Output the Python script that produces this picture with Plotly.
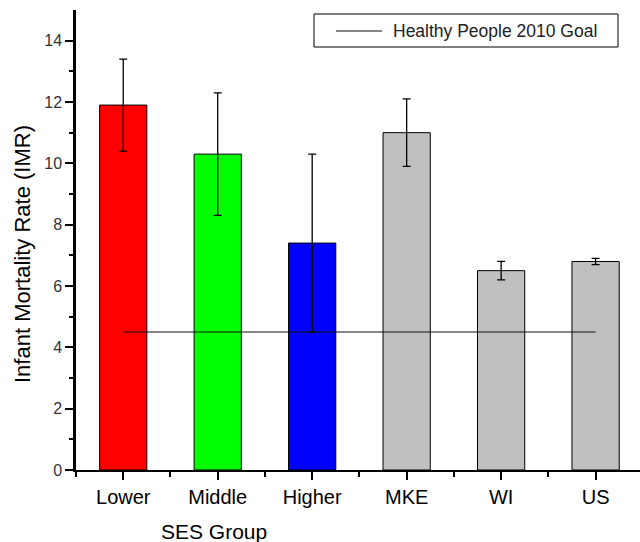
import plotly.graph_objects as go

# Infant mortality rate by socioeconomic group and region
groups = ["Lower", "Middle", "Higher", "MKE", "WI", "US"]
imr = [11.9, 10.3, 7.4, 11.0, 6.5, 6.8]
imr_err = [1.5, 2.0, 2.9, 1.1, 0.3, 0.1]
bar_colors = ["#FF0000", "#00FF00", "#0000FF", "#C0C0C0", "#C0C0C0", "#C0C0C0"]

goal_label = "Healthy People 2010 Goal"
goal_value = 4.5

y_ticks = [0, 2, 4, 6, 8, 10, 12, 14]

W, H = 640, 542
L, R, T, B = 76, 0, 10, 72
pw, ph = W - L - R, H - T - B

fig = go.Figure()

fig.add_trace(go.Bar(
    x=list(range(len(groups))),
    y=imr,
    width=0.5,
    marker=dict(color=bar_colors, line=dict(color="#000000", width=1)),
    error_y=dict(type="data", array=imr_err, visible=True,
                 color="#000000", thickness=1.3, width=4),
    showlegend=False,
    hoverinfo="x+y",
))

fig.add_trace(go.Scatter(
    x=list(range(len(groups))),
    y=[goal_value] * len(groups),
    mode="lines",
    line=dict(color="#111111", width=1.2),
    name=goal_label,
    showlegend=False,
))

font_family = "Liberation Sans, Arial, sans-serif"

def px_x(p):
    return (p - L) / pw

def px_y(p):
    return (H - B - p) / ph

fig.update_layout(
    width=W, height=H,
    margin=dict(l=L, r=R, t=T, b=B),
    paper_bgcolor="white",
    plot_bgcolor="white",
    font=dict(family=font_family, color="#000000"),
    bargap=0.5,
    xaxis=dict(
        range=[-0.5, 5.47],
        tickmode="array",
        tickvals=list(range(len(groups))),
        ticktext=groups,
        tickfont=dict(size=20, color="#000000"),
        showline=True, linecolor="#000000", linewidth=2,
        ticks="outside", ticklen=8, tickwidth=2, tickcolor="#000000",
        minor=dict(tickvals=[i + 0.5 for i in range(-1, len(groups))],
                   ticks="outside", ticklen=5, tickwidth=2, tickcolor="#000000"),
        showgrid=False, zeroline=False, fixedrange=True,
    ),
    yaxis=dict(
        range=[0, 15],
        tickmode="array",
        tickvals=y_ticks,
        tickfont=dict(size=16, color="#333333"),
        showline=True, linecolor="#000000", linewidth=2.5,
        ticks="outside", ticklen=8, tickwidth=2, tickcolor="#000000",
        minor=dict(tickvals=[1, 3, 5, 7, 9, 11, 13],
                   ticks="outside", ticklen=4, tickwidth=2, tickcolor="#000000"),
        showgrid=False, zeroline=False, fixedrange=True,
    ),
    annotations=[
        dict(text="Infant Mortality Rate (IMR)", textangle=-90,
             xref="paper", yref="paper", x=px_x(22), y=px_y(254),
             xanchor="center", yanchor="middle", showarrow=False,
             font=dict(size=22, color="#000000")),
        dict(text="SES Group",
             xref="paper", yref="paper", x=px_x(214), y=px_y(531),
             xanchor="center", yanchor="middle", showarrow=False,
             font=dict(size=21, color="#000000")),
        dict(text=goal_label,
             xref="paper", yref="paper", x=px_x(391), y=px_y(31),
             xanchor="left", yanchor="middle", showarrow=False,
             font=dict(size=17.5, color="#222222")),
    ],
    shapes=[
        # legend frame
        dict(type="rect", xref="paper", yref="paper",
             x0=px_x(314), x1=px_x(618), y0=px_y(47), y1=px_y(14),
             line=dict(color="#000000", width=1), fillcolor="white", layer="above"),
        # legend key
        dict(type="line", xref="paper", yref="paper",
             x0=px_x(336), x1=px_x(382), y0=px_y(31), y1=px_y(31),
             line=dict(color="#111111", width=1.2), layer="above"),
    ],
)

fig.write_html("out.html")
